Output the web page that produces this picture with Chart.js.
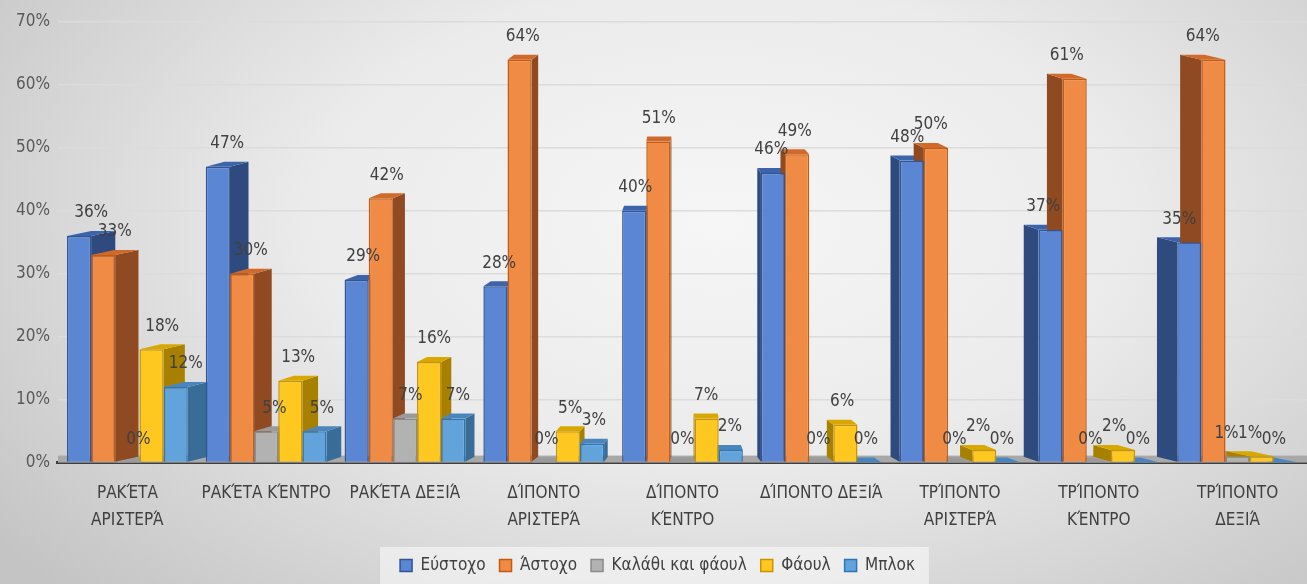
<!DOCTYPE html>
<html>
<head>
<meta charset="utf-8">
<script src="https://cdn.jsdelivr.net/npm/chart.js@4.4.1/dist/chart.umd.min.js"></script>
<style>
html, body { margin: 0; padding: 0; }
body {
    width: 1307px; height: 584px; overflow: hidden;
    background: radial-gradient(ellipse 70% 90% at 55% 38%, #f6f6f6 0%, #ebebeb 45%, #c4c4c4 100%);
}
</style>
</head>
<body>
<canvas id="shotChart" width="1307" height="584"></canvas>
<script>
// Data
const categories = [
    ['ΡΑΚΈΤΑ', 'ΑΡΙΣΤΕΡΆ'], 'ΡΑΚΈΤΑ ΚΈΝΤΡΟ', 'ΡΑΚΈΤΑ ΔΕΞΙΆ',
    ['ΔΊΠΟΝΤΟ', 'ΑΡΙΣΤΕΡΆ'], ['ΔΊΠΟΝΤΟ', 'ΚΈΝΤΡΟ'], 'ΔΊΠΟΝΤΟ ΔΕΞΙΆ',
    ['ΤΡΊΠΟΝΤΟ', 'ΑΡΙΣΤΕΡΆ'], ['ΤΡΊΠΟΝΤΟ', 'ΚΈΝΤΡΟ'], ['ΤΡΊΠΟΝΤΟ', 'ΔΕΞΙΆ']
];
const eustoxo      = [36, 47, 29, 28, 40, 46, 48, 37, 35];
const astoxo       = [33, 30, 42, 64, 51, 49, 50, 61, 64];
const kalathiFaoul = [0, 5, 7, 0, 0, 0, 0, 0, 1];
const faoul        = [18, 13, 16, 5, 7, 6, 2, 2, 1];
const mplok        = [12, 5, 7, 3, 2, 0, 0, 0, 0];
const yTickMax = 70;
const yTickStep = 10;

const textColor = '#404040';
const fontFamily = "'Liberation Sans Narrow', 'DejaVu Sans Condensed', 'Roboto', sans-serif";

// front, border, side, top
const blueC   = ['#5a86d3', '#2f5597', '#2e4a7e', '#3d64aa'];
const orangeC = ['#f08b46', '#c55a11', '#8f4a22', '#d0692a'];
const greyC   = ['#b2b2b2', '#8a8a8a', '#7a7a7a', '#9a9a9a'];
const yellowC = ['#ffc820', '#c99400', '#a88000', '#d9a800'];
const lblueC  = ['#63a3db', '#2e75b6', '#3a6c98', '#4a86bd'];

function series(label, data, c) {
    return {
        label: label, data: data,
        backgroundColor: c[0], borderColor: c[1], borderWidth: 1.5,
        sideColor: c[2], topColor: c[3]
    };
}

function poly(ctx, pts) {
    ctx.beginPath();
    ctx.moveTo(pts[0][0], pts[0][1]);
    for (let i = 1; i < pts.length; i++) ctx.lineTo(pts[i][0], pts[i][1]);
    ctx.closePath();
    ctx.fill();
}

// fake 3D: floor, side and top faces behind the flat fronts
const bar3d = {
    id: 'bar3d',
    beforeDraw(chart) {
        const lg = chart.legend;
        if (!lg || !lg.legendHitBoxes.length) return;
        const hb = lg.legendHitBoxes;
        const l = hb[0].left - 20, r = hb[hb.length - 1].left + hb[hb.length - 1].width + 14;
        chart.ctx.fillStyle = 'rgba(255,255,255,0.5)';
        chart.ctx.fillRect(l, lg.top + 4, r - l, lg.height);
    },
    beforeDatasetsDraw(chart) {
        const ctx = chart.ctx;
        const area = chart.chartArea;
        const y0 = chart.scales.y.getPixelForValue(0);
        ctx.save();
        ctx.fillStyle = '#a8a8a8';
        ctx.fillRect(area.left, y0 - 7, area.right - area.left, 7);
        const vp = (area.left + area.right) / 2;
        chart.data.datasets.forEach((ds, i) => {
            chart.getDatasetMeta(i).data.forEach(bar => {
                const p = bar.getProps(['x', 'y', 'width', 'base'], true);
                const l = p.x - p.width / 2, r = p.x + p.width / 2;
                const dx = (vp - p.x) * 0.04, dy = -5;
                ctx.fillStyle = ds.sideColor;
                const e = dx > 0 ? r : l;
                poly(ctx, [[e, p.y], [e + dx, p.y + dy], [e + dx, p.base + dy], [e, p.base]]);
                ctx.fillStyle = ds.topColor;
                poly(ctx, [[l, p.y], [r, p.y], [r + dx, p.y + dy], [l + dx, p.y + dy]]);
            });
        });
        ctx.restore();
    },
    afterDatasetsDraw(chart) {
        const ctx = chart.ctx;
        const area = chart.chartArea;
        const vp = (area.left + area.right) / 2;
        ctx.save();
        ctx.font = '17px ' + fontFamily;
        ctx.fillStyle = textColor;
        ctx.textAlign = 'center';
        ctx.textBaseline = 'middle';
        chart.data.datasets.forEach((ds, i) => {
            chart.getDatasetMeta(i).data.forEach((bar, j) => {
                const dx = (vp - bar.x) * 0.04;
                ctx.fillText(ds.data[j] + '%', bar.x + dx * 0.5, bar.y - 23);
            });
        });
        ctx.restore();
    }
};

new Chart(document.getElementById('shotChart').getContext('2d'), {
    type: 'bar',
    data: {
        labels: categories,
        datasets: [
            series('Εύστοχο', eustoxo, blueC),
            series('Άστοχο', astoxo, orangeC),
            series('Καλάθι και φάουλ', kalathiFaoul, greyC),
            series('Φάουλ', faoul, yellowC),
            series('Μπλοκ', mplok, lblueC)
        ]
    },
    options: {
        responsive: false,
        animation: false,
        layout: { padding: { top: 22, left: 8, right: 0, bottom: 0 } },
        datasets: { bar: { categoryPercentage: 0.87, barPercentage: 1.0 } },
        scales: {
            y: {
                min: 0, max: yTickMax,
                ticks: { stepSize: yTickStep, callback: v => v + '%', color: '#595959', font: { family: fontFamily, size: 17 }, padding: 8 },
                grid: { color: '#dcdcdc', lineWidth: 1.5, drawTicks: false },
                border: { display: false }
            },
            x: {
                grid: { display: false },
                border: { color: '#3f3f3f', width: 3 },
                ticks: { color: textColor, font: { family: fontFamily, size: 17, lineHeight: 1.6 }, padding: 9, maxRotation: 0, autoSkip: false }
            }
        },
        plugins: {
            legend: {
                position: 'bottom',
                labels: { color: textColor, font: { family: fontFamily, size: 17 }, boxWidth: 12, boxHeight: 12, padding: 14 }
            },
            tooltip: { enabled: false }
        }
    },
    plugins: [bar3d]
});
</script>
</body>
</html>
